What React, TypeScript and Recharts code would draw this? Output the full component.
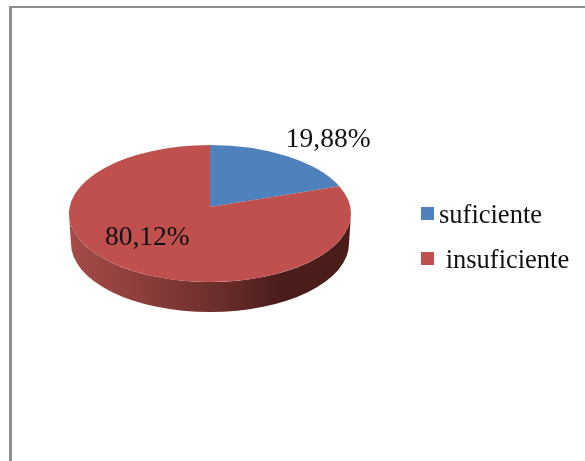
import React from 'react';
import { PieChart, Pie, Legend } from 'recharts';

const categories = ['suficiente', ' insuficiente'];
const percentages = [19.88, 80.12];
const percentLabels = ['19,88%', '80,12%'];
const colors = ['#4F81BD', '#C0504D'];

const data = categories.map((name, i) => ({
  name,
  value: percentages[i],
  label: percentLabels[i],
  fill: colors[i],
}));

// fake 3D look: the flat pie circle is projected onto a tilted plane
const RX = 141;
const RY = 68.5;
const CENTER_SHIFT = 6.5;
const TILT = 0.095;
const DEPTH = 30;
const SERIF = '"Liberation Serif", serif';

const project = (cx: number, cy: number, angle: number, r = 1) => {
  const t = ((90 - angle) * Math.PI) / 180;
  const u = Math.sin(t) * r;
  const v = -Math.cos(t) * r;
  const w = 1 - TILT * v;
  return {
    x: cx + (RX * Math.sqrt(1 - TILT * TILT) * u) / w,
    y: cy + (67.9 * v) / w,
  };
};

const Slice3D = (props: any) => {
  const { cx, cy, startAngle, endAngle, fill, index } = props;
  const a = project(cx, cy, startAngle);
  const b = project(cx, cy, endAngle);
  const large = Math.abs(endAngle - startAngle) > 180 ? 1 : 0;
  const midY = cy + CENTER_SHIFT;
  const isFront = large === 1;
  return (
    <g>
      {isFront && (
        <>
          <defs>
            <linearGradient id={`wall-${index}`} x1="0" y1="0" x2="1" y2="0">
              <stop offset="0" stopColor="#A54C49" />
              <stop offset="0.3" stopColor="#873B39" />
              <stop offset="0.55" stopColor="#682C2A" />
              <stop offset="0.75" stopColor="#4A1C1A" />
              <stop offset="1" stopColor="#4A1C1A" />
            </linearGradient>
          </defs>
          <path
            d={`M ${cx - RX} ${midY} A ${RX} ${RY} 0 0 0 ${cx + RX} ${midY} L ${cx + RX - 2} ${midY + DEPTH} A ${RX - 2} ${RY} 0 0 1 ${cx - RX + 2} ${midY + DEPTH} Z`}
            fill={`url(#wall-${index})`}
          />
        </>
      )}
      <path
        d={`M ${cx} ${cy} L ${a.x} ${a.y} A ${RX} ${RY} 0 ${large} 1 ${b.x} ${b.y} Z`}
        fill={fill}
      />
    </g>
  );
};

const labelSpots = [
  { r: 1, dx: 42, dy: -18 },
  { r: 0.6, dx: -11, dy: -6 },
];

const PieLabel = (props: any) => {
  const { cx, cy, midAngle, index, payload } = props;
  const spot = labelSpots[index];
  const p = project(cx, cy, midAngle, spot.r);
  return (
    <text
      x={p.x + spot.dx}
      y={p.y + spot.dy}
      textAnchor="middle"
      dominantBaseline="central"
      fontFamily={SERIF}
      fontSize={27.5}
      fill="#111"
    >
      {payload.label}
    </text>
  );
};

const LegendBox = ({ payload }: any) => (
  <div style={{ fontFamily: SERIF, fontSize: 26.5, color: '#111' }}>
    {(payload || []).map((item: any) => (
      <div key={item.value} style={{ display: 'flex', alignItems: 'center', height: 45 }}>
        <span style={{ width: 13, height: 13, background: item.color, marginRight: 5 }} />
        <span style={{ whiteSpace: 'pre', lineHeight: '30px' }}>{item.value}</span>
      </div>
    ))}
  </div>
);

export default function App() {
  return (
    <div style={{ position: 'absolute', left: 0, top: 0, width: 585, height: 461, background: '#fff', overflow: 'hidden' }}>
      <div style={{ position: 'absolute', left: 9, top: 6, right: -10, bottom: -10, borderLeft: '3px solid #8c8c8c', borderTop: '2px solid #8c8c8c' }} />
      <div style={{ position: 'absolute', left: 0, top: 0, filter: 'blur(0.5px)' }}>
        <PieChart width={585} height={461} margin={{ top: 0, right: 0, bottom: 0, left: 0 }}>
          <Pie
            data={data}
            dataKey="value"
            nameKey="name"
            cx={210}
            cy={207}
            outerRadius={RX}
            startAngle={90}
            endAngle={-270}
            stroke="none"
            shape={Slice3D}
            label={PieLabel}
            labelLine={false}
            isAnimationActive={false}
          />
          <Legend
            layout="vertical"
            align="right"
            verticalAlign="top"
            itemSorter={null}
            content={LegendBox}
            wrapperStyle={{ left: 421, top: 191, width: 164 }}
          />
        </PieChart>
      </div>
    </div>
  );
}
